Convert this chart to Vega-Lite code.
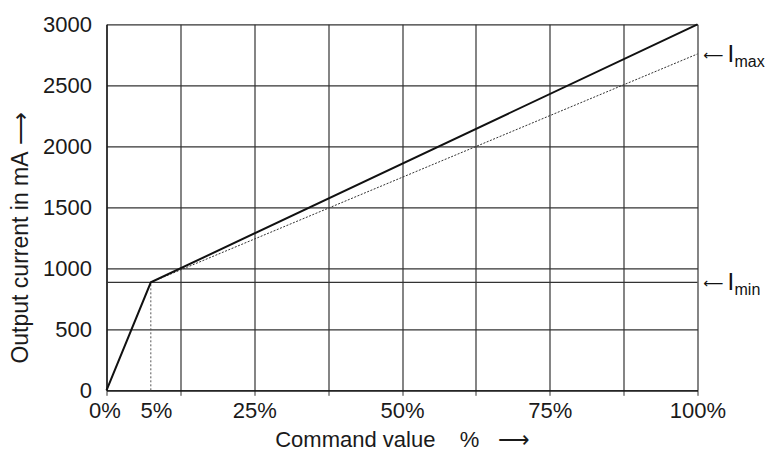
{
  "$schema": "https://vega.github.io/schema/vega-lite/v6.json",
  "width": 591,
  "height": 366,
  "autosize": "none",
  "padding": {"left": 106.5, "top": 24.3, "right": 69.5, "bottom": 75.7},
  "background": "white",
  "config": {
    "view": {"stroke": null},
    "font": "Liberation Sans",
    "axis": {
      "labelFont": "Liberation Sans",
      "titleFont": "Liberation Sans",
      "labelColor": "#1a1a1a",
      "titleColor": "#1a1a1a",
      "titleFontWeight": "normal"
    }
  },
  "datasets": {
    "main": [
      {"command": 0, "current": 0},
      {"command": 7.5, "current": 885},
      {"command": 100, "current": 3000}
    ],
    "dotted": [
      {"command": 7.5, "current": 885},
      {"command": 100, "current": 2757}
    ],
    "vert": [
      {"command": 7.5, "current": 0},
      {"command": 7.5, "current": 885}
    ],
    "imin": [{"current": 885}],
    "labels": [
      {"command": 100, "current": 2757, "arrow": "\u27f5", "main": "I", "sub": "max"},
      {"command": 100, "current": 885, "arrow": "\u27f5", "main": "I", "sub": "min"}
    ]
  },
  "layer": [
    {
      "data": {"name": "imin"},
      "mark": {"type": "rule", "color": "#333", "strokeWidth": 1.2},
      "encoding": {
        "y": {
          "field": "current",
          "type": "quantitative",
          "scale": {"domain": [0, 3000], "nice": false},
          "axis": {
            "values": [0, 500, 1000, 1500, 2000, 2500, 3000],
            "format": "d",
            "grid": true,
            "gridColor": "#333",
            "gridWidth": 1.2,
            "gridOpacity": 1,
            "ticks": false,
            "domainColor": "#111",
            "domainWidth": 1.3,
            "labelFontSize": 22,
            "labelPadding": 15,
            "labelFlush": false,
            "title": "Output current in mA\u00a0\u27f6",
            "titleFontSize": 23,
            "titleY": 213,
            "titleX": -86,
            "titleBaseline": "middle"
          }
        }
      }
    },
    {
      "data": {"name": "vert"},
      "mark": {"type": "line", "color": "#555", "strokeWidth": 1, "strokeDash": [2, 2]},
      "encoding": {
        "x": {
          "field": "command",
          "type": "quantitative",
          "scale": {"domain": [0, 100], "nice": false},
          "axis": {
            "values": [0, 7.5, 12.5, 25, 37.5, 50, 62.5, 75, 87.5, 100],
            "grid": true,
            "gridColor": "#333",
            "gridWidth": 1.2,
            "gridOpacity": {"condition": {"test": "datum.value == 7.5", "value": 0}, "value": 1},
            "ticks": true,
            "tickSize": 5,
            "tickColor": "#333",
            "tickOpacity": {"condition": {"test": "datum.value == 7.5", "value": 0}, "value": 1},
            "domainColor": "#111",
            "domainWidth": 1.3,
            "labelFontSize": 22,
            "labelPadding": 5,
            "labelOverlap": false,
            "labelBound": false,
            "labelFlush": false,
            "labelOffset": {"condition": [{"test": "datum.value == 0", "value": -2}, {"test": "datum.value == 7.5", "value": 5}], "value": 0},
            "labelExpr": "datum.value == 7.5 ? '5%' : (datum.value % 25 == 0 ? datum.value + '%' : '')",
            "title": "Command value\u00a0\u00a0\u00a0\u00a0%\u00a0\u00a0\u00a0\u27f6",
            "titleFontSize": 22,
            "titlePadding": 8
          }
        },
        "y": {"field": "current", "type": "quantitative"}
      }
    },
    {
      "data": {"name": "dotted"},
      "mark": {"type": "line", "color": "#333", "strokeWidth": 1, "strokeDash": [2, 1.5]},
      "encoding": {
        "x": {"field": "command", "type": "quantitative"},
        "y": {"field": "current", "type": "quantitative"}
      }
    },
    {
      "data": {"name": "main"},
      "mark": {"type": "line", "color": "#111", "strokeWidth": 2},
      "encoding": {
        "x": {"field": "command", "type": "quantitative"},
        "y": {"field": "current", "type": "quantitative"}
      }
    },
    {
      "data": {"name": "labels"},
      "mark": {"type": "text", "align": "left", "baseline": "middle", "dx": 6, "dy": 2, "fontSize": 14, "font": "DejaVu Sans", "color": "#111", "clip": false},
      "encoding": {
        "x": {"field": "command", "type": "quantitative"},
        "y": {"field": "current", "type": "quantitative"},
        "text": {"field": "arrow"}
      }
    },
    {
      "data": {"name": "labels"},
      "mark": {"type": "text", "align": "left", "baseline": "middle", "dx": 30, "dy": 1, "fontSize": 24, "font": "Liberation Sans", "color": "#111", "clip": false},
      "encoding": {
        "x": {"field": "command", "type": "quantitative"},
        "y": {"field": "current", "type": "quantitative"},
        "text": {"field": "main"}
      }
    },
    {
      "data": {"name": "labels"},
      "mark": {"type": "text", "align": "left", "baseline": "middle", "dx": 37, "dy": 8, "fontSize": 16, "font": "Liberation Sans", "color": "#111", "clip": false},
      "encoding": {
        "x": {"field": "command", "type": "quantitative"},
        "y": {"field": "current", "type": "quantitative"},
        "text": {"field": "sub"}
      }
    }
  ]
}
